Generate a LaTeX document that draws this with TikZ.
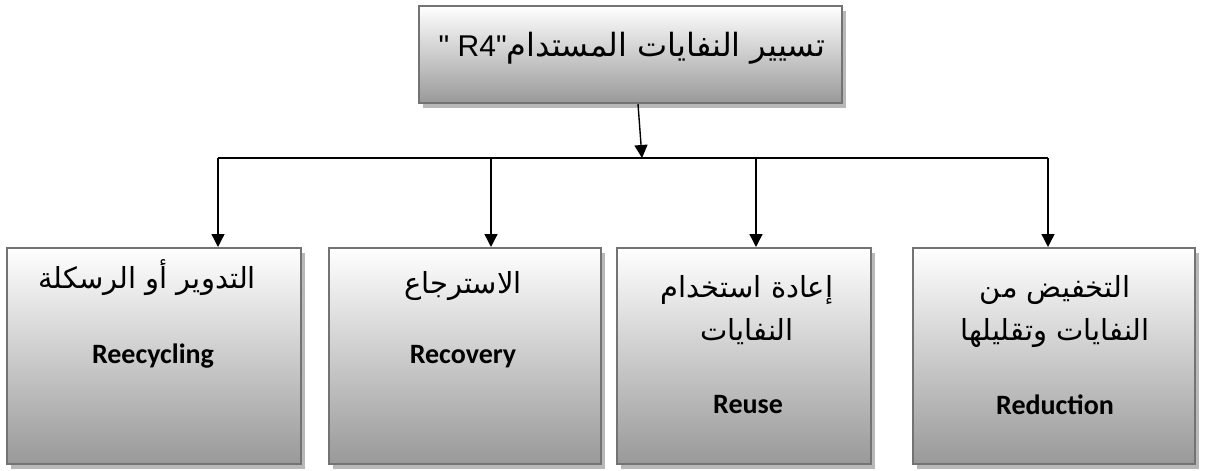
\documentclass[tikz,border=0pt]{standalone}
\usepackage{fontspec}
\setmainfont{Liberation Sans}[Ligatures=TeXOff]
\newfontfamily\arfont[Script=Arabic]{DejaVu Sans}
\newfontfamily\cbfont{Carlito}
\TeXXeTstate=1
\usetikzlibrary{shadows,arrows.meta,calc}
\tikzset{
  gbox/.style={draw=black!55, line width=2pt, top color=white, bottom color=black!40,
    inner sep=0pt, general shadow={shadow xshift=4pt, shadow yshift=-5pt, fill=black!28}},
  conn/.style={line width=1.4pt, black},
  arr/.style={conn, -{Triangle[length=13pt,width=13pt]}},
  artxt/.style={anchor=base, font=\arfont\fontsize{29}{43}\selectfont, align=center, inner sep=0pt},
  entxt/.style={anchor=base, font=\cbfont\bfseries\fontsize{28}{32}\selectfont, inner sep=0pt},
}
\begin{document}
\begin{tikzpicture}[x=1pt,y=-1pt]
\useasboundingbox (0,0) rectangle (1210,471);
% boxes
\node[gbox, minimum width=423pt, minimum height=97pt] (top) at (630.5,54.5) {};
\node[gbox, minimum width=294pt, minimum height=216pt] (b1) at (154,356) {};
\node[gbox, minimum width=272pt, minimum height=216pt] (b2) at (465,356) {};
\node[gbox, minimum width=254pt, minimum height=216pt] (b3) at (744,356) {};
\node[gbox, minimum width=282pt, minimum height=216pt] (b4) at (1054,356) {};
% texts
\node[anchor=base, inner sep=0pt, font=\fontsize{30}{36}\selectfont] (tt) at (632,56)
  {" R4"{\arfont\fontsize{32}{38}\selectfont\beginR تسيير النفايات المستدام\endR}};
\node[artxt] (t1) at (147,288) {\beginR التدوير أو الرسكلة\endR};
\node[entxt] (e1) at (153,363) {Reecycling};
\node[artxt] (t2) at (463,293) {\beginR الاسترجاع\endR};
\node[entxt] (e2) at (463,363) {Recovery};
\node[artxt] (t3) at (747,340) {\beginR إعادة استخدام\endR\\\beginR النفايات\endR};
\node[entxt] (e3) at (748,413) {Reuse};
\node[artxt] (t4) at (1055,340) {\beginR التخفيض من\endR\\\beginR النفايات وتقليلها\endR};
\node[entxt] (e4) at (1055,414) {Reduction};
% connectors
\coordinate (hub) at (642,158);
\coordinate (k1) at (218,158);
\coordinate (k2) at (491,158);
\coordinate (k3) at (756,158);
\coordinate (k4) at (1048,158);
\draw[arr] ($(top.south)+(7.5,0)$) -- (hub);
\draw[conn] (k1) -- (k4);
\draw[arr] (k1) -- (k1 |- b1.north);
\draw[arr] (k2) -- (k2 |- b2.north);
\draw[arr] (k3) -- (k3 |- b3.north);
\draw[arr] (k4) -- (k4 |- b4.north);
\end{tikzpicture}
\end{document}
